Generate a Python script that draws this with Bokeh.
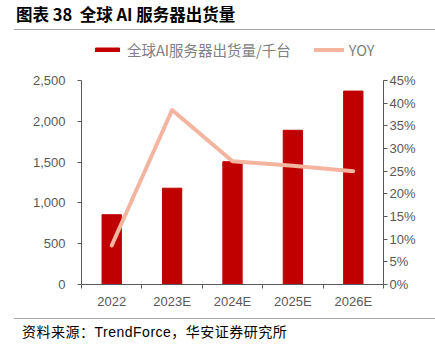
from bokeh.plotting import figure
from bokeh.models import (Range1d, LinearAxis, FixedTicker, NumeralTickFormatter,
                          Legend, LegendItem, Div)
from bokeh.layouts import column
from bokeh.embed import file_html
from bokeh.resources import INLINE

categories = ["2022", "2023E", "2024E", "2025E", "2026E"]
shipments = [855, 1180, 1505, 1890, 2370]
yoy = [0.086, 0.385, 0.272, 0.262, 0.25]
left_ticks = [0, 500, 1000, 1500, 2000, 2500]
right_ticks = [0, 0.05, 0.10, 0.15, 0.20, 0.25, 0.30, 0.35, 0.40, 0.45]
left_max = 2500
right_max = 0.45

title_text = "图表 38&nbsp;&nbsp;全球 AI 服务器出货量"
legend_labels = ["全球AI服务器出货量/千台", "YOY"]

xs = list(range(1, len(categories) + 1))

TICK_FONT = "Liberation Sans"
CJK = "Noto Sans CJK SC"
GREY = "#595959"

# geometry: axes span AXIS_PX pixels, frame extended upward to hold the legend
AXIS_PX = 204
FRAME_H = 252
scale = FRAME_H / AXIS_PX

p = figure(width=435, height=288, output_backend="svg", toolbar_location=None,
           x_range=Range1d(0.5, 5.5), y_range=Range1d(0, left_max * scale),
           frame_width=302, frame_height=FRAME_H,
           min_border_left=81, min_border_right=52, min_border_top=2, min_border_bottom=34,
           outline_line_color=None, background_fill_color="white", border_fill_color="white",
           margin=0)
p.xgrid.visible = False
p.ygrid.visible = False

p.extra_y_ranges = {"yoy": Range1d(0, right_max * scale)}

bars = p.vbar(x=xs, top=shipments, width=0.32, color="#C00000")
line = p.line(x=xs, y=yoy, y_range_name="yoy", line_color="#F4B5A0", line_width=4,
              line_cap="round", line_join="round")

# x axis
xa = p.xaxis[0]
xa.ticker = FixedTicker(ticks=xs, minor_ticks=[0.5 + i for i in range(len(categories) + 1)])
xa.major_label_overrides = {x: c for x, c in zip(xs, categories)}
xa.major_tick_in = 0
xa.major_tick_out = 0
xa.minor_tick_in = 0
xa.minor_tick_out = 4
xa.axis_line_color = GREY
xa.minor_tick_line_color = GREY
xa.major_label_text_font = TICK_FONT
xa.major_label_text_font_size = "13px"
xa.major_label_text_color = GREY
xa.major_label_standoff = 5

# left axis
ya = p.yaxis[0]
ya.ticker = FixedTicker(ticks=left_ticks)
ya.formatter = NumeralTickFormatter(format="0,0")
ya.bounds = (0, left_max)
ya.major_tick_in = 0
ya.major_tick_out = 4
ya.axis_line_color = GREY
ya.major_tick_line_color = GREY
ya.major_label_text_font = TICK_FONT
ya.major_label_text_font_size = "13px"
ya.major_label_text_color = GREY
ya.major_label_standoff = 12

# right axis
ra = LinearAxis(y_range_name="yoy", ticker=FixedTicker(ticks=right_ticks),
                formatter=NumeralTickFormatter(format="0%"), bounds=(0, right_max))
ra.major_tick_in = 0
ra.major_tick_out = 4
ra.axis_line_color = GREY
ra.major_tick_line_color = GREY
ra.minor_tick_line_color = None
ra.major_label_text_font = TICK_FONT
ra.major_label_text_font_size = "13px"
ra.major_label_text_color = GREY
ra.major_label_standoff = 2
p.add_layout(ra, "right")

# legend (inside the extended frame, above the data)
legend = Legend(items=[LegendItem(label=legend_labels[0], renderers=[bars]),
                       LegendItem(label=legend_labels[1], renderers=[line])],
                orientation="horizontal", location=(11, 224),
                glyph_width=30, glyph_height=5, label_height=20, label_standoff=5, spacing=23,
                label_text_font=CJK, label_text_font_size="14.5px",
                label_text_color="#808080", background_fill_alpha=0,
                border_line_color=None, padding=0, margin=0)
p.add_layout(legend, "center")

title_div = Div(width=435, height=30, margin=0, text=(
    '<div style="margin-left:14px;width:421px;height:30px;box-sizing:border-box;'
    'border-bottom:1.5px solid #A6A6A6;">'
    '<span style="display:inline-block;margin-left:2px;margin-top:4px;'
    "font-family:'Noto Sans CJK SC';font-weight:bold;font-size:16.5px;line-height:20px;"
    'color:#000;white-space:nowrap;">' + title_text + '</span></div>'))

footer_div = Div(width=435, height=33, margin=0, text=(
    '<div style="margin-left:14px;width:421px;box-sizing:border-box;'
    'border-top:1.5px solid #A6A6A6;padding-top:3px;padding-left:8px;">'
    "<span style=\"font-family:'Noto Sans CJK SC';font-size:14px;line-height:18px;"
    'letter-spacing:0.5px;color:#000;white-space:nowrap;">资料来源：'
    "<span style=\"font-family:'Liberation Sans';\">TrendForce</span>，华安证券研究所</span></div>"))

layout = column(title_div, p, footer_div, spacing=0, margin=0)

with open("out.html", "w") as f:
    f.write(file_html(layout, INLINE))
